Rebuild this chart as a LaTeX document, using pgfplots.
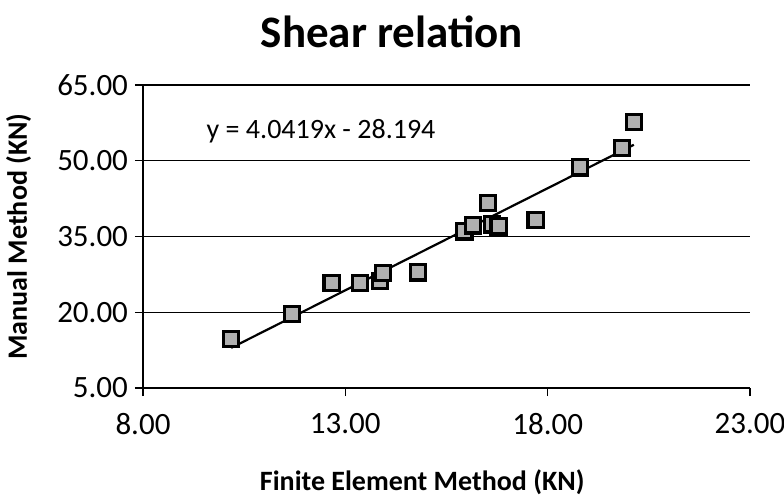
\documentclass[border=0pt]{standalone}
\usepackage{pgfplots}
\pgfplotsset{compat=1.18}
\usepackage{fontspec}
\setmainfont{Carlito}
\begin{document}
\begin{tikzpicture}
\useasboundingbox (-71.5pt,-56pt) rectangle (320.5pt,194pt);
\begin{axis}[
  scale only axis,
  width=303.5pt, height=151.5pt,
  xmin=8, xmax=23, ymin=5, ymax=65,
  xtick={8,13,18,23}, ytick={5,20,35,50,65},
  axis lines=left,
  axis line style={-, black, line width=0.7pt},
  ymajorgrids,
  grid style={black, line width=0.6pt},
  tick align=outside,
  major tick length=4pt,
  tick style={black, line width=0.6pt},
  xticklabel style={yshift=-5pt},
  /pgf/number format/assume math mode=true,
  /pgf/number format/.cd, fixed, fixed zerofill, precision=2,
  /pgfplots/.cd,
  ticklabel style={font=\fontsize{15.5}{18}\selectfont},
  clip=false,
]
\addplot[only marks, mark=square*, mark size=3.8pt,
  mark options={fill=gray!62, draw=black, line width=1.6pt}]
coordinates {
(10.18,14.7)
(11.68,19.7)
(12.66,25.8)
(13.36,25.8)
(13.85,26.2)
(13.93,27.8)
(14.80,27.9)
(15.94,36.0)
(16.16,37.2)
(16.52,41.6)
(16.62,37.4)
(16.79,37.0)
(17.70,38.3)
(18.80,48.7)
(19.83,52.5)
(20.13,57.7)
};
\addplot[black, line width=1.1pt] coordinates {(10.18,12.95) (20.13,53.17)};
\node[anchor=west, font=\fontsize{14}{16}\selectfont] at (axis cs:9.4,55.9) {y = 4.0419x - 28.194};
\node[font=\fontsize{22.5}{26}\bfseries\selectfont] at (rel axis cs:0.41,1.175) {Shear relation};
\node[font=\fontsize{14}{16}\bfseries\selectfont] at (rel axis cs:0.46,-0.31) {Finite Element Method (KN)};
\node[rotate=90, font=\fontsize{14}{16}\bfseries\selectfont] at (rel axis cs:-0.205,0.5) {Manual Method (KN)};
\end{axis}
\end{tikzpicture}
\end{document}
